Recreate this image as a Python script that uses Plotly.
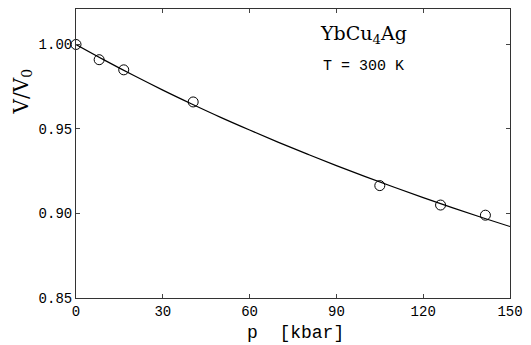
import plotly.graph_objects as go

# Measured data
p_data = [0, 8, 16.5, 40.5, 105, 126, 141.5]
v_data = [1.000, 0.991, 0.985, 0.966, 0.9165, 0.905, 0.899]

# Fitted curve
p_fit = [0, 10, 20, 30, 40, 50, 60, 70, 80, 90, 100, 110, 120, 130, 140, 150]
v_fit = [1.0000, 0.9906, 0.9816, 0.9730, 0.9648, 0.9569, 0.9494, 0.9421,
         0.9351, 0.9283, 0.9218, 0.9155, 0.9094, 0.9035, 0.8978, 0.8923]

x_ticks = [0, 30, 60, 90, 120, 150]
y_ticks = [0.85, 0.90, 0.95, 1.00]
y_ticklabels = ["0.85", "0.90", "0.95", "1.00"]

fig = go.Figure()
fig.add_trace(go.Scatter(x=p_fit, y=v_fit, mode="lines", line=dict(color="black", width=1.2),
                         line_shape="spline", showlegend=False))
fig.add_trace(go.Scatter(x=p_data, y=v_data, mode="markers",
                         marker=dict(symbol="circle-open", size=10, color="black", line=dict(width=1)),
                         showlegend=False, cliponaxis=False))

tickfont = dict(family="Liberation Mono", size=14, color="black")
fig.update_layout(
    width=531, height=345,
    margin=dict(l=76, r=14, t=8, b=47),
    paper_bgcolor="white", plot_bgcolor="white",
    xaxis=dict(range=[0, 150], tickvals=x_ticks, ticks="inside", ticklen=4,
               showline=True, linecolor="#333", linewidth=1, mirror="ticks",
               showgrid=False, zeroline=False, tickfont=tickfont),
    yaxis=dict(range=[0.85, 1.021], tickvals=y_ticks, ticktext=y_ticklabels,
               ticks="inside", ticklen=4,
               showline=True, linecolor="#333", linewidth=1, mirror="ticks",
               showgrid=False, zeroline=False, tickfont=tickfont),
    annotations=[
        dict(text="p  [kbar]", xref="paper", yref="paper", x=0.505, y=-0.12,
             xanchor="center", yanchor="middle", showarrow=False,
             font=dict(family="Liberation Mono", size=18, color="black")),
        dict(text="V/V<sub>0</sub>", xref="paper", yref="paper", x=-0.125, y=0.714,
             xanchor="center", yanchor="middle",
             textangle=-90, showarrow=False,
             font=dict(family="DejaVu Serif", size=20, color="black")),
        dict(text="YbCu<sub>4</sub>Ag", xref="x", yref="y", x=99.5, y=1.0062,
             xanchor="center", yanchor="middle",
             showarrow=False, font=dict(family="DejaVu Serif", size=19, color="black")),
        dict(text="T = 300 K", xref="x", yref="y", x=99.5, y=0.9872,
             xanchor="center", yanchor="middle",
             showarrow=False, font=dict(family="Liberation Mono", size=15, color="black")),
    ],
)
fig.write_html("out.html")
